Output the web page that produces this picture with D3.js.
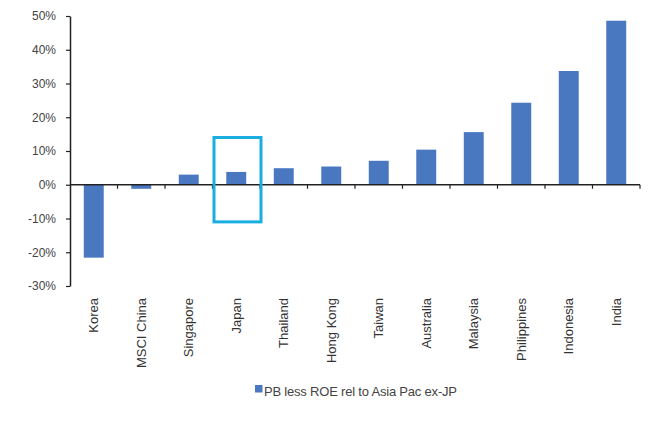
<!DOCTYPE html>
<html><head><meta charset="utf-8">
<script src="https://cdn.jsdelivr.net/npm/d3@7"></script>
<style>body{margin:0;background:#fff;} svg{display:block;}</style>
</head><body>
<svg id="c" width="657" height="424"></svg>
<script>
const categories = ["Korea","MSCI China","Singapore","Japan","Thailand","Hong Kong","Taiwan","Australia","Malaysia","Philippines","Indonesia","India"];
const values = [-21.6,-1.2,3.0,3.8,4.9,5.4,7.1,10.4,15.6,24.3,33.7,48.6];
const yTicks = [-30,-20,-10,0,10,20,30,40,50];
const seriesName = "PB less ROE rel to Asia Pac ex-JP";
const highlight = "Japan";

(function(){
const svg = d3.select("#c");
const mLeft = 70, mRight = 640, mTop = 16, mBottom = 286;
const x = d3.scaleBand().domain(categories).range([mLeft, mRight]).paddingInner(0.58).paddingOuter(0.29);
const xb = d3.scaleBand().domain(categories).range([mLeft, mRight]);
const y = d3.scaleLinear().domain([-30, 50]).range([mBottom, mTop]);
const barColor = "#4a78c0";
const font = "Arial, 'Liberation Sans', sans-serif";

// bars
svg.append("g").selectAll("rect").data(values).join("rect")
  .attr("x", (d,i) => x(categories[i]))
  .attr("width", x.bandwidth())
  .attr("y", d => y(Math.max(0,d)))
  .attr("height", d => Math.abs(y(d) - y(0)))
  .attr("fill", barColor);

// y axis
const ya = svg.append("g").attr("transform", `translate(${mLeft},0)`)
  .call(d3.axisLeft(y).tickValues(yTicks).tickFormat(d => d + "%").tickSize(4).tickSizeOuter(0));
ya.select(".domain").attr("stroke", "#222").attr("stroke-width", 1.5);
ya.selectAll(".tick line").attr("stroke", "#222").attr("stroke-width", 1.2);
ya.selectAll("text").attr("font-family", font).attr("font-size", 12).attr("fill", "#444").attr("x", -14);

// x axis at zero with ticks at boundaries
const xa = svg.append("g").attr("transform", `translate(0,${y(0)})`);
xa.append("line").attr("x1", mLeft).attr("x2", mRight).attr("stroke", "#222").attr("stroke-width", 1.5);
xa.selectAll("line.t").data(categories).join("line").attr("class","t")
  .attr("x1", d => xb(d) + xb.bandwidth()).attr("x2", d => xb(d) + xb.bandwidth())
  .attr("y1", 0).attr("y2", 4).attr("stroke", "#222").attr("stroke-width", 1.2);

// category labels
svg.append("g").selectAll("text").data(categories).join("text")
  .attr("transform", d => `translate(${xb(d) + xb.bandwidth()/2 + 4.5},298) rotate(-90)`)
  .attr("text-anchor", "end")
  .attr("font-family", font).attr("font-size", 13).attr("fill", "#333")
  .text(d => d);

// highlight box
svg.append("rect")
  .attr("x", xb(highlight) + 1.5).attr("width", xb.bandwidth() - 0.5)
  .attr("y", y(14)).attr("height", y(-11) - y(14))
  .attr("fill", "none").attr("stroke", "#1aaee0").attr("stroke-width", 3);

// legend
const lg = svg.append("g").attr("transform", "translate(255,396)");
lg.append("rect").attr("x", 0).attr("y", -11).attr("width", 7.5).attr("height", 7.5).attr("fill", barColor);
lg.append("text").attr("x", 9).attr("y", 0).attr("font-family", font).attr("font-size", 13)
  .attr("fill", "#444").attr("letter-spacing", -0.2).text(seriesName);
})();
</script>
</body></html>
